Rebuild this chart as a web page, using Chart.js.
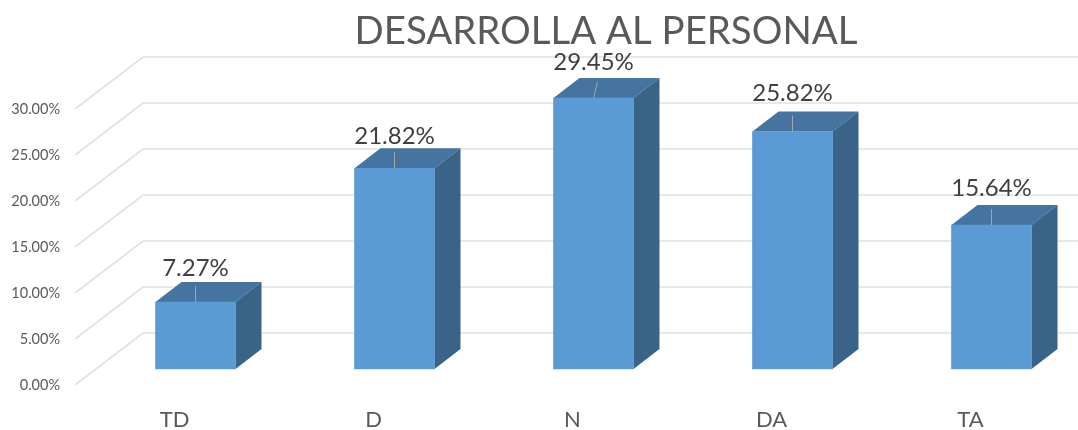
<!DOCTYPE html>
<html>
<head>
<meta charset="utf-8">
<script src="https://cdn.jsdelivr.net/npm/chart.js@4"></script>
<style>
  html, body { margin: 0; padding: 0; background: #fff; }
  #wrap { width: 1078px; height: 430px; }
</style>
</head>
<body>
<div id="wrap"><canvas id="chart"></canvas></div>
<script>
const categories = ['TD', 'D', 'N', 'DA', 'TA'];
const values = [7.27, 21.82, 29.45, 25.82, 15.64];
const yTicks = [0, 5, 10, 15, 20, 25, 30];
const chartTitle = 'DESARROLLA AL PERSONAL';

// fake 3D: the bars stand a bit behind the front edge of the floor
const floorDx = 68, floorDy = 52;
const barShiftX = 21, barShiftY = 16;
const depthX = 26, depthY = 20;
const labelLift = [34, 32, 36, 38, 37];
const leaderLean = [0, 0, 4, 0, 0];

const fake3d = {
    id: 'fake3d',
    beforeDatasetsDraw(chart) {
        const { ctx, scales: { y }, chartArea } = chart;
        ctx.save();
        ctx.strokeStyle = '#e1e1e1';
        ctx.lineWidth = 1.6;
        yTicks.forEach(v => {
            const py = y.getPixelForValue(v);
            ctx.beginPath();
            ctx.moveTo(chartArea.left, py);
            ctx.lineTo(chartArea.left + floorDx, py - floorDy);
            ctx.lineTo(1078, py - floorDy);
            ctx.stroke();
        });
        ctx.restore();

        // sides and tops of the bars
        ctx.save();
        ctx.translate(barShiftX, -barShiftY);
        chart.getDatasetMeta(0).data.forEach(bar => {
            const half = bar.width / 2;
            const l = bar.x - half, r = bar.x + half;
            ctx.fillStyle = '#44749f';
            ctx.beginPath();
            ctx.moveTo(l, bar.y);
            ctx.lineTo(l + depthX, bar.y - depthY);
            ctx.lineTo(r + depthX, bar.y - depthY);
            ctx.lineTo(r, bar.y);
            ctx.closePath();
            ctx.fill();
            ctx.fillStyle = '#396488';
            ctx.beginPath();
            ctx.moveTo(r, bar.y);
            ctx.lineTo(r + depthX, bar.y - depthY);
            ctx.lineTo(r + depthX, bar.base - depthY);
            ctx.lineTo(r, bar.base);
            ctx.closePath();
            ctx.fill();
        });
    },
    afterDatasetsDraw(chart) {
        const { ctx } = chart;
        ctx.restore();
        ctx.save();
        ctx.translate(barShiftX, -barShiftY);
        ctx.textAlign = 'center';
        ctx.textBaseline = 'middle';
        ctx.font = '24px Lato';
        chart.getDatasetMeta(0).data.forEach((bar, i) => {
            ctx.strokeStyle = '#a6a6a6';
            ctx.lineWidth = 1;
            ctx.beginPath();
            ctx.moveTo(bar.x, bar.y);
            ctx.lineTo(bar.x + leaderLean[i], bar.y - 16);
            ctx.stroke();
            ctx.fillStyle = '#404040';
            ctx.fillText(values[i].toFixed(2) + '%', bar.x, bar.y - labelLift[i]);
        });
        ctx.restore();

        ctx.save();
        ctx.fillStyle = '#595959';
        ctx.font = '38.4px Lato';
        ctx.textAlign = 'center';
        ctx.textBaseline = 'middle';
        ctx.fillText(chartTitle, 606, 32);
        ctx.restore();
    }
};

new Chart(document.getElementById('chart').getContext('2d'), {
    type: 'bar',
    data: {
        labels: categories,
        datasets: [{
            data: values,
            backgroundColor: '#5b9bd5',
            barThickness: 80,
            clip: false
        }]
    },
    options: {
        responsive: true,
        maintainAspectRatio: false,
        animation: false,
        layout: { padding: { top: 109, right: 8, bottom: 0, left: 0 } },
        plugins: { legend: { display: false }, tooltip: { enabled: false }, title: { display: false } },
        scales: {
            x: {
                afterFit(axis) { axis.height = 45; },
                grid: { display: false },
                border: { display: false },
                ticks: { color: '#595959', font: { family: 'Lato', size: 22 }, padding: 14, maxRotation: 0 }
            },
            y: {
                min: 0,
                max: 30,
                afterBuildTicks(axis) { axis.ticks = yTicks.map(v => ({ value: v })); },
                afterFit(axis) { axis.width = 75; },
                grid: { display: false },
                border: { display: false },
                ticks: {
                    color: '#595959',
                    font: { family: 'Lato', size: 14.5 },
                    padding: 7,
                    callback: v => v.toFixed(2) + '%'
                }
            }
        }
    },
    plugins: [fake3d]
});
</script>
</body>
</html>
